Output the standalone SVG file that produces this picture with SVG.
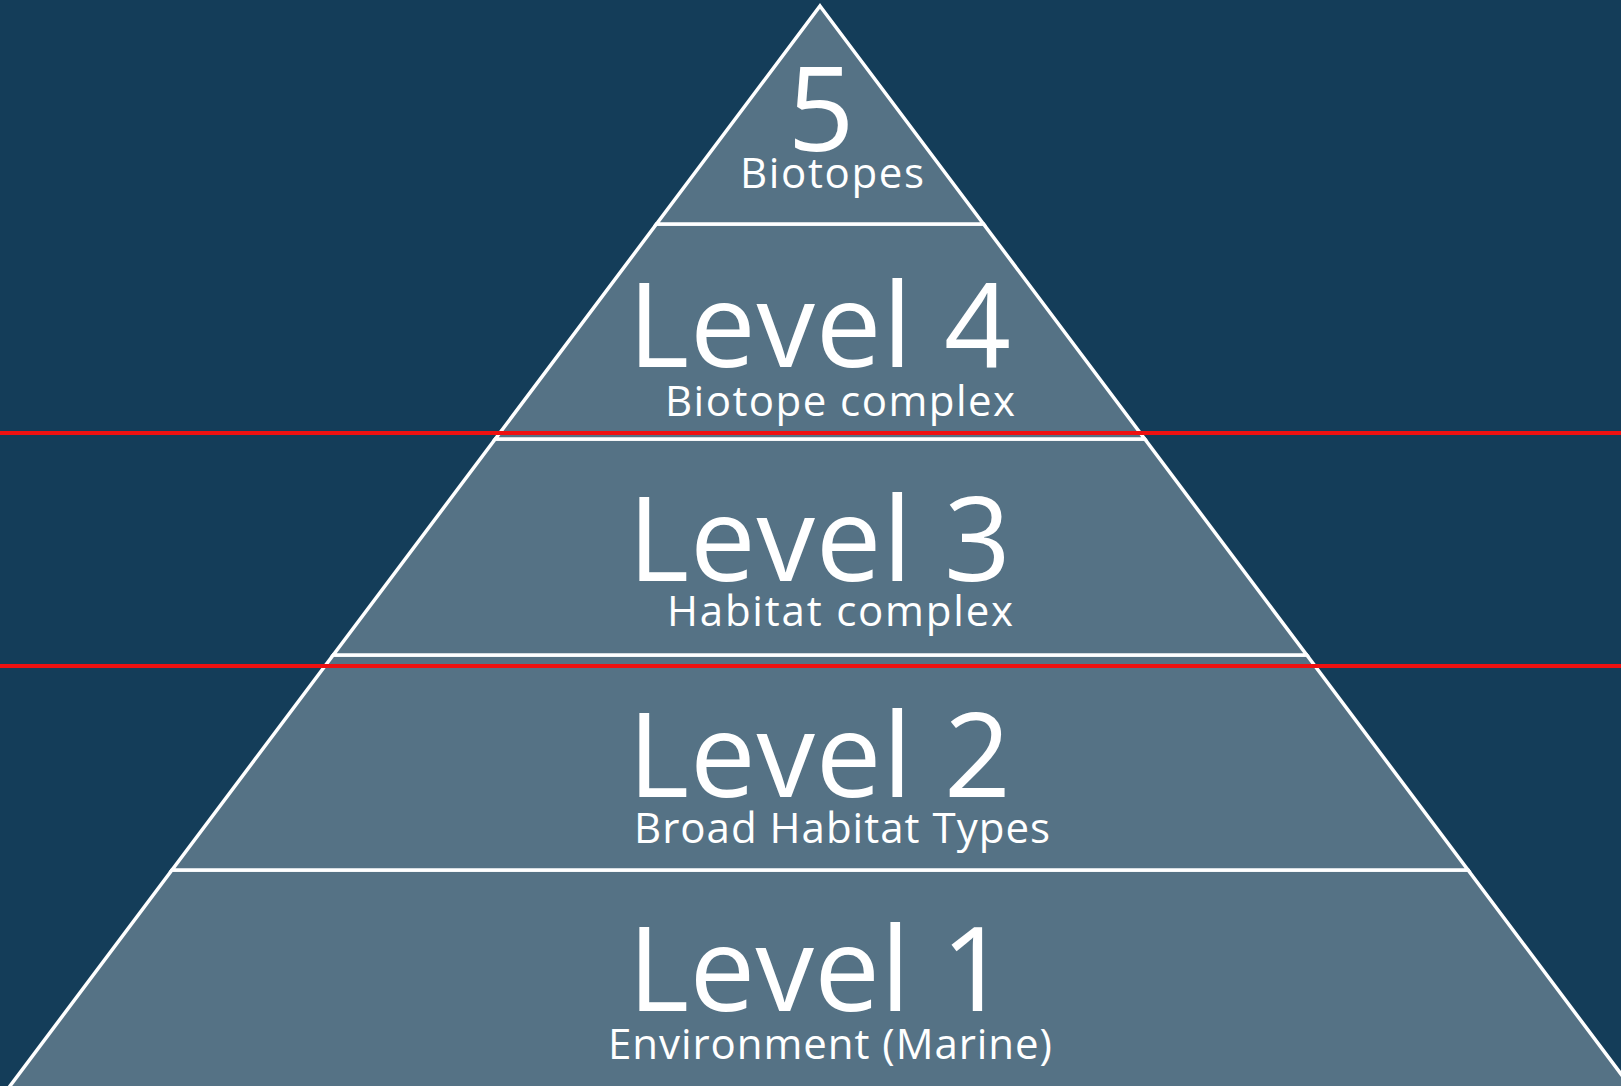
<svg xmlns="http://www.w3.org/2000/svg" width="1621" height="1086" viewBox="0 0 1621 1086">
<style>
.lvl{fill:#557285;stroke:#ffffff;stroke-width:3.5;stroke-linejoin:miter}
.big{font-family:"Open Sans","Noto Sans",sans-serif;fill:#ffffff;font-size:117px}
.sub{font-family:"Open Sans","Noto Sans",sans-serif;fill:#ffffff;font-size:42px;text-anchor:middle}
.red{stroke:#ee1111;stroke-width:4}
</style>
<rect width="1621" height="1086" fill="#143d59"/>
<g id="level1">
<polygon class="lvl" points="172,870 1468,870 1636,1094 4,1094"/>
<text class="big" x="628" y="1011" textLength="380">Level 1</text>
<text class="sub" x="830" y="1059" textLength="444">Environment (Marine)</text>
</g>
<g id="level2">
<polygon class="lvl" points="333.25,655 1306.75,655 1468,870 172,870"/>
<text class="big" x="628" y="797" textLength="383">Level 2</text>
<text class="sub" x="842" y="843" textLength="416">Broad Habitat Types</text>
</g>
<g id="level3">
<polygon class="lvl" points="495.25,439 1144.75,439 1306.75,655 333.25,655"/>
<text class="big" x="628" y="581" textLength="383">Level 3</text>
<text class="sub" x="840" y="626" textLength="346">Habitat complex</text>
</g>
<g id="level4">
<polygon class="lvl" points="656.5,224 983.5,224 1144.75,439 495.25,439"/>
<text class="big" x="628" y="367" textLength="383">Level 4</text>
<text class="sub" x="840" y="416" textLength="350">Biotope complex</text>
</g>
<g id="level5">
<polygon class="lvl" points="820,6 983.5,224 656.5,224"/>
<text class="big" x="821" y="151" text-anchor="middle">5</text>
<text class="sub" x="832" y="188" textLength="184">Biotopes</text>
</g>
<g id="connectors">
<line class="red" x1="0" y1="433" x2="1621" y2="433"/>
<line class="red" x1="0" y1="666" x2="1621" y2="666"/>
</g>
</svg>
